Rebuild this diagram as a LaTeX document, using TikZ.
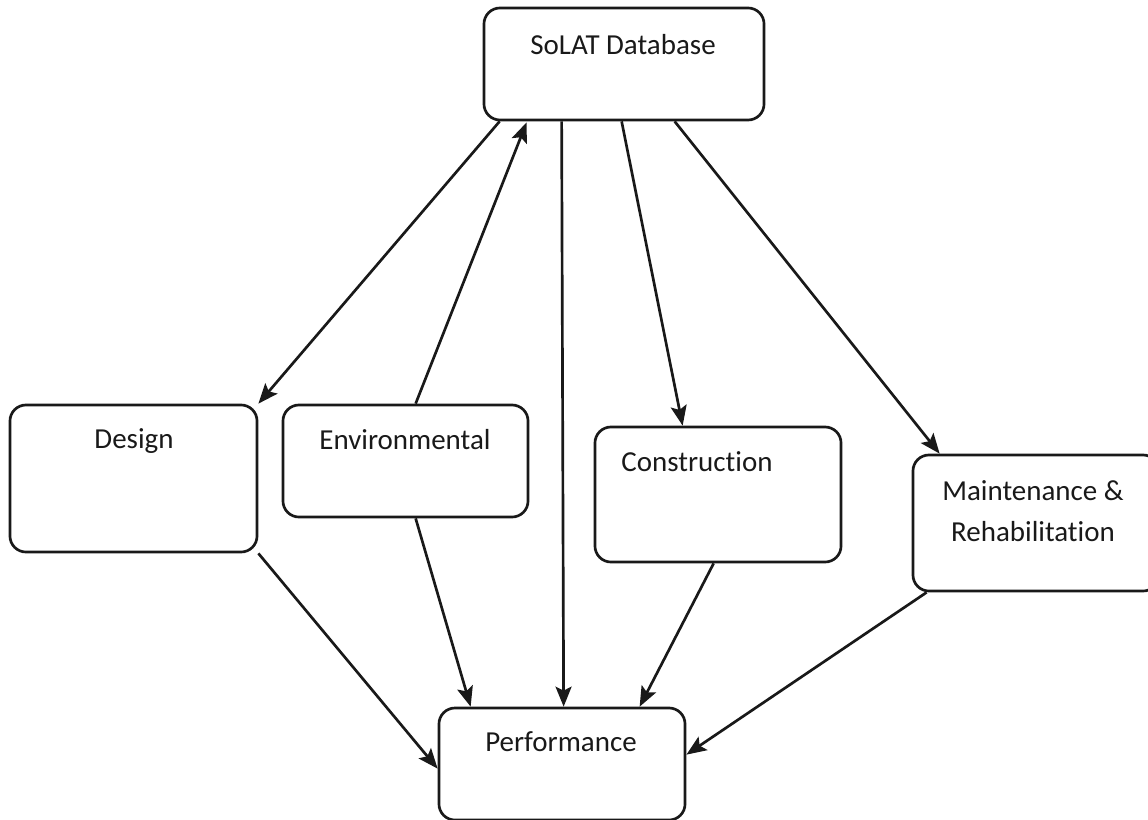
\documentclass[tikz,border=0pt]{standalone}
\usepackage{fontspec}
\setmainfont{Carlito}[Ligatures={NoCommon,NoRare}]
\usetikzlibrary{arrows.meta, calc, positioning}
\definecolor{boxline}{RGB}{25,25,25}

\begin{document}
\begin{tikzpicture}[x=0.025cm, y=-0.025cm,
    box/.style={draw=boxline, line width=1.9pt, rounded corners=0.4cm, minimum width=6.15cm},
    lbl/.style={font=\fontsize{20.6}{29}\selectfont, text=boxline, align=center},
    link/.style={-{Stealth[length=0.5cm,width=0.4cm,inset=0.1cm]}, draw=boxline, line width=1.9pt}]
        \useasboundingbox (0,0) rectangle (1148,820);
        \clip (0,0) rectangle (1148,820);

        % Boxes
        \node[box, minimum width=7cm, minimum height=2.8cm] (sol) at (624,64) {};
        \node[box, minimum width=6.175cm, minimum height=3.675cm] (des) at (133.5,478.5) {};
        \node[box, minimum width=6.125cm, minimum height=2.8cm] (env) at (405.5,461) {};
        \node[box, minimum height=3.375cm] (con) at (718,494.5) {};
        \node[box, minimum height=3.4cm] (mai) at (1036,523) {};
        \node[box, minimum height=2.8cm] (per) at (562,764) {};

        % Labels
        \node[lbl] (solt) at (623,45) {SoLAT Database};
        \node[lbl] (dest) at (134,441) {Design};
        \node[lbl] (envt) at (405,440) {Environmental};
        \node[lbl] (cont) at (697,462) {Construction};
        \node[lbl] (mait) at (1033,511) {Maintenance \&\\ Rehabilitation};
        \node[lbl] (pert) at (561,742) {Performance};

        % Links from the database
        \draw[link] ($(sol.south west)+(17,0)$) -- (des.north east);
        \draw[link] ($(env.north west)+(134,0)$) -- ($(sol.south west)+(44,1)$);
        \draw[link] ($(sol.south west)+(79,0)$) -- ($(per.north west)+(126,0)$);
        \draw[link] ($(sol.south west)+(139,0)$) -- ($(con.north west)+(89,0)$);
        \draw[link] ($(sol.south west)+(192,0)$) -- ($(mai.north west)+(28,0)$);

        % Links to performance
        \draw[link] (des.south east) -- ($(per.north west)+(0,62)$);
        \draw[link] ($(env.south west)+(134,0)$) -- ($(per.north west)+(33,0)$);
        \draw[link] ($(con.south west)+(120,0)$) -- ($(per.north west)+(202,0)$);
        \draw[link] ($(mai.south west)+(15,0)$) -- ($(per.north east)+(0,48)$);
    \end{tikzpicture}
\end{document}
